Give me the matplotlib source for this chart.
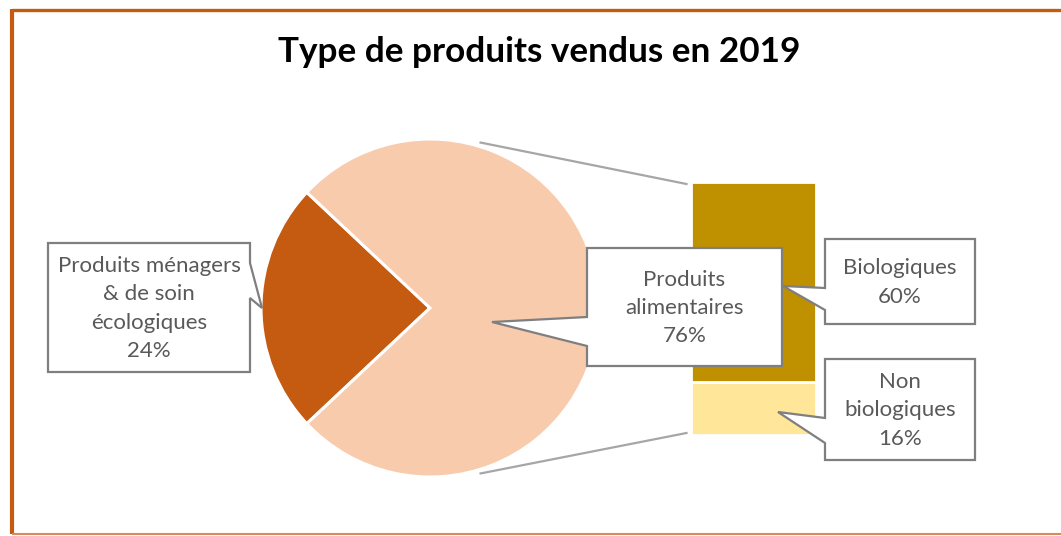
import numpy as np
import matplotlib.pyplot as plt
from matplotlib.patches import Polygon

plt.rcParams['font.family'] = ['Lato', 'DejaVu Sans']

titre = 'Type de produits vendus en 2019'
pie_labels = ['Produits ménagers\n& de soin\nécologiques', 'Produits\nalimentaires']
pie_values = [24, 76]
bar_labels = ['Non\nbiologiques', 'Biologiques']
bar_values = [16, 60]
pie_colors = ['#C55A11', '#F8CBAD']
bar_colors = ['#FFE699', '#BF9000']

W, H = 1061, 536
gris = '#595959'


def py(y):
    # pixel (haut -> bas) vers coordonnees (bas -> haut)
    return H - y


def bulle(x0, y0, x1, y1, cote, b0, b1, tip, texte, z=5):
    # boite avec une pointe, tout en pixels de l'image
    if cote == 'droite':
        pts = [(x0, y0), (x1, y0), (x1, b0), tip, (x1, b1), (x1, y1), (x0, y1)]
    else:
        pts = [(x0, y0), (x1, y0), (x1, y1), (x0, y1), (x0, b1), tip, (x0, b0)]
    pts = [(x, py(y)) for x, y in pts]
    ax.add_patch(Polygon(pts, closed=True, facecolor='white', edgecolor='#7F7F7F',
                         linewidth=1.6, zorder=z))
    ax.text((x0 + x1) / 2, py((y0 + y1) / 2 + 1), texte, ha='center', va='center',
            color=gris, fontsize=16, linespacing=1.52, zorder=z + 1)


fig = plt.figure(figsize=(W / 100, H / 100), dpi=100)
ax = fig.add_axes([0, 0, 1, 1])

# camembert
cx, cy, r = 430, py(308), 169
start = 180 - pie_values[0] * 3.6 / 2
ax.pie(pie_values, colors=pie_colors, startangle=start, center=(cx, cy), radius=r,
       wedgeprops=dict(edgecolor='white', linewidth=2.2), frame=True)

# barre empilee
k = 253 / sum(bar_values)
bx, bw, b0 = 753, 125, py(435)
bas = b0
for v, c in zip(bar_values, bar_colors):
    ax.bar(bx, v * k, width=bw, bottom=bas, color=c, edgecolor='white', linewidth=2, zorder=2)
    bas += v * k

# lignes de liaison
a = np.deg2rad(73)
for s, yb in [(1, b0 + sum(bar_values) * k - 2), (-1, b0 + 2)]:
    ax.plot([cx + (r + 4) * np.cos(a), bx - bw / 2 - 4],
            [cy + s * (r + 4) * np.sin(a), yb], color='#A6A6A6', lw=1.6, zorder=1)

ax.set_xlim(0, W)
ax.set_ylim(0, H)
ax.set_aspect('auto')
ax.axis('off')

# etiquettes
bulle(48, 243, 250, 372, 'droite', 263, 298, (262, 308),
      f'{pie_labels[0]}\n{pie_values[0]}%')
bulle(825, 239, 975, 324, 'gauche', 288, 310, (783, 286),
      f'{bar_labels[1]}\n{bar_values[1]}%')
bulle(825, 359, 975, 460, 'gauche', 418, 443, (778, 412),
      f'{bar_labels[0]}\n{bar_values[0]}%')
bulle(587, 248, 782, 366, 'gauche', 317, 346, (492, 322),
      f'{pie_labels[1]}\n{pie_values[1]}%', z=7)

# titre
ax.text(539, py(52), titre, ha='center', va='center', fontsize=25.3, fontweight='bold',
        color='black')

# cadre orange (sans bord droit)
ax.plot([12, 12], [py(9), py(534)], color='#C55A11', lw=3, solid_capstyle='butt')
ax.plot([12, W], [py(9.5), py(9.5)], color='#C55A11', lw=2.4, solid_capstyle='butt')
ax.plot([12, W], [py(534), py(534)], color='#D9895A', lw=1.5, solid_capstyle='butt')

fig.savefig('out.png', dpi=100, facecolor='white')
